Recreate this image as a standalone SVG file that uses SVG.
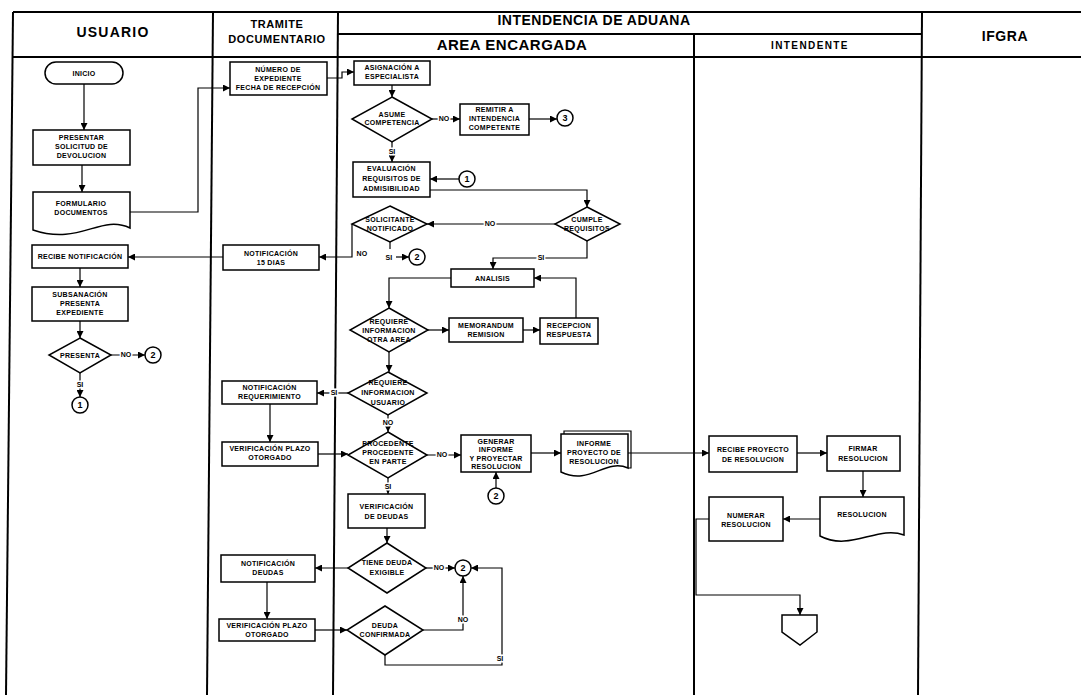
<svg xmlns="http://www.w3.org/2000/svg" width="1081" height="695" viewBox="0 0 1081 695">
<style>
.bg{fill:#fff}
.lane{stroke:#000;stroke-width:2;fill:none}
.n{fill:#fff;stroke:#000;stroke-width:1.5}
.t{font-family:"Liberation Sans",Arial,sans-serif;font-weight:bold;font-size:7px;text-anchor:middle;fill:#000;letter-spacing:0.3px}
.h{font-family:"Liberation Sans",Arial,sans-serif;font-weight:bold;text-anchor:middle;fill:#000}
.c{fill:none;stroke:#000;stroke-width:1.2;marker-end:url(#a)}
.p{fill:none;stroke:#000;stroke-width:1.2}
.l{font-family:"Liberation Sans",Arial,sans-serif;font-weight:bold;font-size:7px;text-anchor:middle;fill:#000;paint-order:stroke;stroke:#fff;stroke-width:3px}
.cn{font-family:"Liberation Sans",Arial,sans-serif;font-weight:bold;font-size:9px;text-anchor:middle;fill:#000}
</style>
<defs>
<marker id="a" viewBox="0 0 10 10" refX="10" refY="5" markerWidth="7" markerHeight="7" markerUnits="userSpaceOnUse" orient="auto"><path d="M0,0 L10,5 L0,10 z" fill="#000"/></marker>
</defs>
<rect class="bg" x="0" y="0" width="1081" height="695"/>
<g id="swimlanes">
<line class="lane" x1="13" y1="12" x2="1081" y2="12"/>
<line class="lane" x1="337" y1="34" x2="922" y2="34"/>
<line class="lane" x1="13" y1="57" x2="1081" y2="57"/>
<line class="lane" x1="13" y1="12" x2="6" y2="695"/>
<line class="lane" x1="213" y1="12" x2="207" y2="695"/>
<line class="lane" x1="338" y1="12" x2="333" y2="695"/>
<line class="lane" x1="694" y1="34" x2="694" y2="695"/>
<line class="lane" x1="922" y1="12" x2="918" y2="695"/>
<text class="h" x="113" y="37" font-size="14" letter-spacing="1.2">USUARIO</text>
<text class="h" x="277" y="28" font-size="11" letter-spacing="0.6">TRAMITE</text>
<text class="h" x="277" y="43" font-size="11" letter-spacing="0.6">DOCUMENTARIO</text>
<text class="h" x="594" y="25" font-size="14" letter-spacing="0.5">INTENDENCIA DE ADUANA</text>
<text class="h" x="512" y="50" font-size="15" letter-spacing="0.5">AREA ENCARGADA</text>
<text class="h" x="810" y="49" font-size="10" letter-spacing="1.4">INTENDENTE</text>
<text class="h" x="1005" y="41" font-size="14" letter-spacing="0.6">IFGRA</text>
</g>
<g id="connectors">
<path class="c" d="M84,84 V130"/>
<path class="c" d="M82,165 V192"/>
<path class="c" d="M130,212 H198 V88 H230"/>
<path class="c" d="M327,78 H342 V72 H354"/>
<path class="c" d="M392,85 V97"/>
<path class="c" d="M432,119 H460"/>
<text class="l" x="444" y="121">NO</text>
<path class="c" d="M529,119 H557"/>
<path class="c" d="M392,142 V162"/>
<text class="l" x="392" y="154">SI</text>
<path class="c" d="M459,179 H430"/>
<path class="c" d="M430,190 H587 V207"/>
<path class="c" d="M555,224 H427"/>
<text class="l" x="490" y="226">NO</text>
<path class="c" d="M352,224 V257 H319"/>
<text class="t" x="362" y="256">NO</text>
<path class="p" d="M390,242 V249"/>
<text class="t" x="389" y="260">SI</text>
<path class="c" d="M396,257 H409"/>
<path class="c" d="M587,241 V258 H493 V269"/>
<text class="l" x="541" y="260">SI</text>
<path class="c" d="M451,278 H389 V308"/>
<path class="c" d="M428,330 H449"/>
<path class="c" d="M523,330 H540"/>
<path class="c" d="M576,318 V278 H534"/>
<path class="c" d="M389,352 V372"/>
<path class="c" d="M348,393 H317"/>
<text class="l" x="334" y="395">SI</text>
<path class="c" d="M388,415 V432"/>
<text class="l" x="388" y="425">NO</text>
<path class="c" d="M270,404 V442"/>
<path class="c" d="M318,454 H348"/>
<path class="c" d="M427,455 H461"/>
<text class="l" x="442" y="457">NO</text>
<path class="c" d="M496,488 V472"/>
<path class="c" d="M531,453 H561"/>
<path class="c" d="M628,453 H709"/>
<path class="c" d="M797,453 H827"/>
<path class="c" d="M863,471 V497"/>
<path class="c" d="M820,519 H783"/>
<path class="c" d="M709,519 H696 V595 H800 V615"/>
<path class="c" d="M388,478 V494"/>
<text class="l" x="388" y="489">SI</text>
<path class="c" d="M387,528 V543"/>
<path class="c" d="M348,568 H315"/>
<path class="c" d="M426,568 H455"/>
<text class="l" x="439" y="570">NO</text>
<path class="c" d="M267,582 V619"/>
<path class="c" d="M315,630 H347"/>
<path class="c" d="M423,630 H463 V576"/>
<text class="l" x="463" y="622">NO</text>
<path class="c" d="M385,655 V665 H502 V568 H471"/>
<text class="l" x="500" y="661">SI</text>
<path class="c" d="M80,268 V287"/>
<path class="c" d="M80,321 V338"/>
<path class="c" d="M111,355 H145"/>
<text class="l" x="126" y="357">NO</text>
<path class="c" d="M80,373 V397"/>
<text class="l" x="80" y="387">SI</text>
<path class="c" d="M223,257 H128"/>
</g>
<g id="inicio"><rect class="n" x="45" y="62" width="78" height="22" rx="11"/><text class="t" x="84" y="76">INICIO</text></g>
<g id="presentar"><rect class="n" x="33" y="130" width="97" height="35"/><text class="t" x="81.5" y="140">PRESENTAR</text><text class="t" x="81.5" y="149">SOLICITUD DE</text><text class="t" x="81.5" y="158">DEVOLUCION</text></g>
<g id="formulario"><path class="n" d="M33,192 H130 V228 C100,214 80,246 33,230 Z"/><text class="t" x="81" y="206">FORMULARIO</text><text class="t" x="81" y="215">DOCUMENTOS</text></g>
<g id="numero"><rect class="n" x="230" y="62" width="97" height="33"/><text class="t" x="278" y="72">NÚMERO DE</text><text class="t" x="278" y="81">EXPEDIENTE</text><text class="t" x="278" y="90">FECHA DE RECEPCIÓN</text></g>
<g id="asignacion"><rect class="n" x="354" y="61" width="76" height="24"/><text class="t" x="392" y="70">ASIGNACIÓN A</text><text class="t" x="392" y="79">ESPECIALISTA</text></g>
<g id="asume"><polygon class="n" points="392,97 432,119 392,142 352,119"/><text class="t" x="392" y="117">ASUME</text><text class="t" x="392" y="125">COMPETENCIA</text></g>
<g id="remitir"><rect class="n" x="460" y="104" width="69" height="31"/><text class="t" x="494.5" y="112">REMITIR A</text><text class="t" x="494.5" y="121">INTENDENCIA</text><text class="t" x="494.5" y="130">COMPETENTE</text></g>
<g id="c3"><circle class="n" cx="565" cy="118" r="8"/><text class="cn" x="565" y="121">3</text></g>
<g id="evaluacion"><rect class="n" x="353" y="162" width="77" height="35"/><text class="t" x="391.5" y="171">EVALUACIÓN</text><text class="t" x="391.5" y="181">REQUISITOS DE</text><text class="t" x="391.5" y="191">ADMISIBILIDAD</text></g>
<g id="c1a"><circle class="n" cx="467" cy="179" r="8"/><text class="cn" x="467" y="182">1</text></g>
<g id="cumple"><polygon class="n" points="587,207 620,224 587,241 555,224"/><text class="t" x="587" y="222">CUMPLE</text><text class="t" x="587" y="231">REQUISITOS</text></g>
<g id="solicitante"><polygon class="n" points="390,206 427,224 390,242 352,224"/><text class="t" x="390" y="222">SOLICITANTE</text><text class="t" x="390" y="231">NOTIFICADO</text></g>
<g id="c2a"><circle class="n" cx="417" cy="257" r="8"/><text class="cn" x="417" y="260">2</text></g>
<g id="notif15"><rect class="n" x="223" y="245" width="96" height="25"/><text class="t" x="271" y="256">NOTIFICACIÓN</text><text class="t" x="271" y="265">15 DIAS</text></g>
<g id="recibenotif"><rect class="n" x="32" y="245" width="96" height="23"/><text class="t" x="80" y="259">RECIBE NOTIFICACIÓN</text></g>
<g id="subsanacion"><rect class="n" x="32" y="287" width="96" height="34"/><text class="t" x="80" y="297">SUBSANACIÓN</text><text class="t" x="80" y="306">PRESENTA</text><text class="t" x="80" y="315">EXPEDIENTE</text></g>
<g id="presenta"><polygon class="n" points="80,338 111,355 80,373 49,355"/><text class="t" x="80" y="358">PRESENTA</text></g>
<g id="c2b"><circle class="n" cx="153" cy="355" r="8"/><text class="cn" x="153" y="358">2</text></g>
<g id="c1b"><circle class="n" cx="80" cy="405" r="8"/><text class="cn" x="80" y="408">1</text></g>
<g id="analisis"><rect class="n" x="451" y="269" width="83" height="18"/><text class="t" x="492.5" y="281">ANALISIS</text></g>
<g id="requiere1"><polygon class="n" points="389,308 428,330 389,352 350,330"/><text class="t" x="389" y="324">REQUIERE</text><text class="t" x="389" y="333">INFORMACION</text><text class="t" x="389" y="342">OTRA AREA</text></g>
<g id="memorandum"><rect class="n" x="449" y="318" width="74" height="24"/><text class="t" x="486" y="328">MEMORANDUM</text><text class="t" x="486" y="337">REMISION</text></g>
<g id="recepcion"><rect class="n" x="540" y="318" width="58" height="26"/><text class="t" x="569" y="328">RECEPCION</text><text class="t" x="569" y="337">RESPUESTA</text></g>
<g id="requiere2"><polygon class="n" points="388,372 427,393 388,415 348,393"/><text class="t" x="388" y="385">REQUIERE</text><text class="t" x="388" y="395">INFORMACION</text><text class="t" x="388" y="405">USUARIO</text></g>
<g id="notifreq"><rect class="n" x="222" y="381" width="95" height="23"/><text class="t" x="269.5" y="390">NOTIFICACIÓN</text><text class="t" x="269.5" y="399">REQUERIMIENTO</text></g>
<g id="verifplazo1"><rect class="n" x="222" y="442" width="96" height="24"/><text class="t" x="270" y="451">VERIFICACIÓN PLAZO</text><text class="t" x="270" y="460">OTORGADO</text></g>
<g id="procedente"><polygon class="n" points="388,432 427,455 388,478 348,455"/><text class="t" x="388" y="446">PROCEDENTE</text><text class="t" x="388" y="455">PROCEDENTE</text><text class="t" x="388" y="464">EN PARTE</text></g>
<g id="generar"><rect class="n" x="461" y="435" width="70" height="37"/><text class="t" x="496" y="444">GENERAR</text><text class="t" x="496" y="452">INFORME</text><text class="t" x="496" y="461">Y PROYECTAR</text><text class="t" x="496" y="469">RESOLUCION</text></g>
<g id="c2c"><circle class="n" cx="496" cy="496" r="8"/><text class="cn" x="496" y="499">2</text></g>
<g id="informe"><path class="p" stroke-width="1.2" d="M564,435 V431 H631 V468 H628"/><path class="n" d="M561,434 H628 V468 C605,458 590,486 561,472 Z"/><text class="t" x="594" y="446">INFORME</text><text class="t" x="594" y="455">PROYECTO DE</text><text class="t" x="594" y="464">RESOLUCION</text></g>
<g id="recibeproy"><rect class="n" x="709" y="436" width="88" height="36"/><text class="t" x="753" y="452">RECIBE PROYECTO</text><text class="t" x="753" y="462">DE RESOLUCION</text></g>
<g id="firmar"><rect class="n" x="827" y="436" width="73" height="35"/><text class="t" x="863" y="451">FIRMAR</text><text class="t" x="863" y="461">RESOLUCION</text></g>
<g id="resolucion"><path class="n" d="M820,497 H904 V535 C878,525 850,552 820,536 Z"/><text class="t" x="862" y="517">RESOLUCION</text></g>
<g id="numerar"><rect class="n" x="709" y="497" width="74" height="44"/><text class="t" x="746" y="518">NUMERAR</text><text class="t" x="746" y="527">RESOLUCION</text></g>
<g id="offpage"><polygon class="n" points="782,615 817,615 817,632 800,645 782,632"/></g>
<g id="verifdeudas"><rect class="n" x="348" y="494" width="77" height="34"/><text class="t" x="386.5" y="509">VERIFICACIÓN</text><text class="t" x="386.5" y="519">DE DEUDAS</text></g>
<g id="tienedeuda"><polygon class="n" points="387,543 426,568 387,593 348,568"/><text class="t" x="387" y="565">TIENE DEUDA</text><text class="t" x="387" y="575">EXIGIBLE</text></g>
<g id="notifdeudas"><rect class="n" x="221" y="555" width="94" height="27"/><text class="t" x="268" y="566">NOTIFICACIÓN</text><text class="t" x="268" y="575">DEUDAS</text></g>
<g id="c2d"><circle class="n" cx="463" cy="568" r="8"/><text class="cn" x="463" y="571">2</text></g>
<g id="deudaconf"><polygon class="n" points="385,606 423,630 385,655 347,630"/><text class="t" x="385" y="628">DEUDA</text><text class="t" x="385" y="637">CONFIRMADA</text></g>
<g id="verifplazo2"><rect class="n" x="219" y="619" width="96" height="22"/><text class="t" x="267" y="628">VERIFICACIÓN PLAZO</text><text class="t" x="267" y="637">OTORGADO</text></g>
</svg>
